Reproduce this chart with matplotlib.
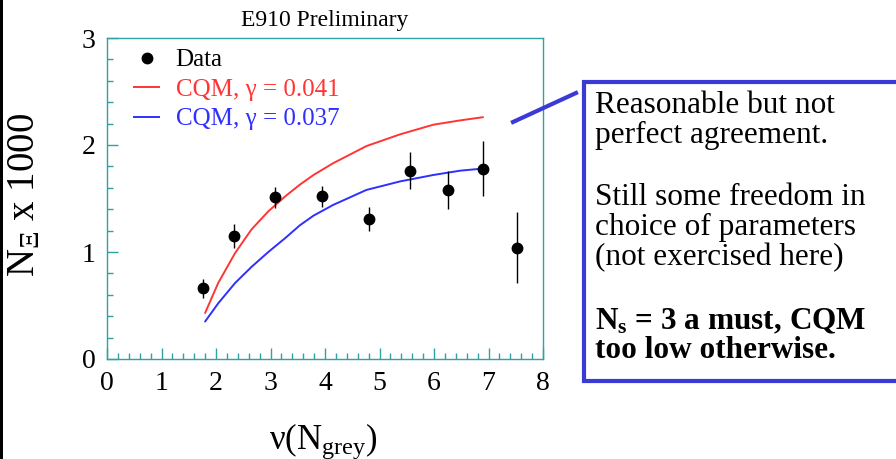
import matplotlib
matplotlib.use("Agg")
import matplotlib.pyplot as plt
from matplotlib.lines import Line2D
from matplotlib.patches import Rectangle
from matplotlib.ticker import MultipleLocator
from matplotlib.legend_handler import HandlerLine2D

plt.rcParams['font.family'] = ['Liberation Serif', 'DejaVu Serif']
plt.rcParams['mathtext.fontset'] = 'custom'
plt.rcParams['mathtext.rm'] = 'Liberation Serif'
plt.rcParams['mathtext.it'] = 'Liberation Serif:italic'
plt.rcParams['mathtext.bf'] = 'Liberation Serif:bold'

# Data points
data_x = [1.77, 2.33, 3.09, 3.95, 4.80, 5.56, 6.26, 6.90, 7.53]
data_y = [0.66, 1.15, 1.51, 1.52, 1.31, 1.76, 1.58, 1.78, 1.04]
data_err = [0.09, 0.11, 0.10, 0.10, 0.11, 0.17, 0.18, 0.26, 0.33]

# CQM curves
curve_x = [1.80, 2.04, 2.35, 2.65, 2.96, 3.27, 3.54, 3.79, 4.15, 4.76, 5.38, 5.99, 6.48, 6.90]
red_y = [0.43, 0.71, 0.99, 1.21, 1.38, 1.52, 1.63, 1.72, 1.83, 1.99, 2.10, 2.19, 2.23, 2.26]
blue_y = [0.35, 0.52, 0.71, 0.86, 1.00, 1.13, 1.25, 1.34, 1.44, 1.58, 1.66, 1.72, 1.76, 1.78]

xticks = [0, 1, 2, 3, 4, 5, 6, 7, 8]
yticks = [0, 1, 2, 3]

text_lines = ["Reasonable but not", "perfect agreement.",
              "Still some freedom in", "choice of parameters",
              "(not exercised here)"]
text_baselines = [113, 143, 205, 235, 265]

W, H = 896, 459
fig = plt.figure(figsize=(W / 100, H / 100), dpi=100)
fig.patch.set_facecolor('white')


def fx(px):
    return px / W


def fy(py):
    return 1 - py / H


ax = fig.add_axes([fx(107), fy(359), fx(543) - fx(107), fy(38) - fy(359)])
teal = '#2fa3a3'
red = '#ff3535'
blue = '#2f2fff'

ax.plot(curve_x, red_y, color=red, lw=1.4, zorder=2, solid_capstyle='round',
        solid_joinstyle='round')
ax.plot(curve_x, blue_y, color=blue, lw=1.4, zorder=2, solid_capstyle='round',
        solid_joinstyle='round')
ax.errorbar(data_x, data_y, yerr=data_err, fmt='o', color='black', ms=7.5,
            elinewidth=1.0, capsize=0, zorder=3)

ax.set_xlim(0, 8)
ax.set_ylim(0, 3)
for side in ['left', 'bottom', 'top', 'right']:
    ax.spines[side].set_color(teal)
    ax.spines[side].set_linewidth(1.0)

ax.set_xticks(xticks)
ax.set_yticks(yticks)
ax.xaxis.set_minor_locator(MultipleLocator(0.2))
ax.yaxis.set_minor_locator(MultipleLocator(0.2))
ax.tick_params(which='both', direction='in', color=teal, top=False, right=False,
               labelsize=20, width=1.0)
ax.tick_params(which='major', length=8)
ax.tick_params(which='minor', length=4)
ax.tick_params(axis='x', pad=9)
ax.tick_params(axis='y', pad=8)

fig.text(fx(325), fy(26), 'E910 Preliminary', fontsize=17,
         ha='center', va='baseline')


class RightMarker(HandlerLine2D):
    def get_xdata(self, legend, xdescent, ydescent, width, height, fontsize):
        xdata, _ = super().get_xdata(legend, xdescent, ydescent, width,
                                     height, fontsize)
        return xdata, [width - xdescent]


h_data = Line2D([], [], marker='o', color='black', ls='none', ms=7.5)
h_red = Line2D([], [], color=red, lw=1.4)
h_blue = Line2D([], [], color=blue, lw=1.4)
leg = ax.legend([h_data, h_red, h_blue],
                ['Data', 'CQM, γ = 0.041', 'CQM, γ = 0.037'],
                loc='upper left', bbox_to_anchor=(0.04, 0.997), frameon=False,
                fontsize=18, handlelength=1.0, handletextpad=0.65,
                labelspacing=0.28, borderaxespad=0.0,
                handler_map={h_data: RightMarker()},
                labelcolor=['black', red, blue])

fig.text(fx(25), fy(195), r'N$_{\Xi}$ x 1000', rotation=90, fontsize=28,
         ha='center', va='center')
fig.text(fx(323), fy(449), r'ν(N$_{\rm grey}$)', fontsize=25,
         ha='center', va='baseline')

# left black border
fig.add_artist(Rectangle((0, 0), fx(3), 1, transform=fig.transFigure,
                         facecolor='black', edgecolor='none'))

# text box
boxc = '#3a3ad6'
fig.add_artist(Rectangle((fx(584), fy(381)), fx(920) - fx(584), fy(82) - fy(381),
                         transform=fig.transFigure, facecolor='white',
                         edgecolor=boxc, linewidth=3.0))
fig.add_artist(Line2D([fx(513), fx(576)], [fy(122), fy(93)],
                      transform=fig.transFigure, color=boxc, linewidth=3.0))

for line, yb in zip(text_lines, text_baselines):
    fig.text(fx(595), fy(yb), line, fontsize=22.5, ha='left', va='baseline')
fig.text(fx(595), fy(329), r'N$_{\mathbf{s}}$ = 3 a must, CQM', fontsize=22.5,
         fontweight='bold', ha='left', va='baseline')
fig.text(fx(595), fy(358), 'too low otherwise.', fontsize=22.5,
         fontweight='bold', ha='left', va='baseline')

fig.savefig('out.png', dpi=100)
